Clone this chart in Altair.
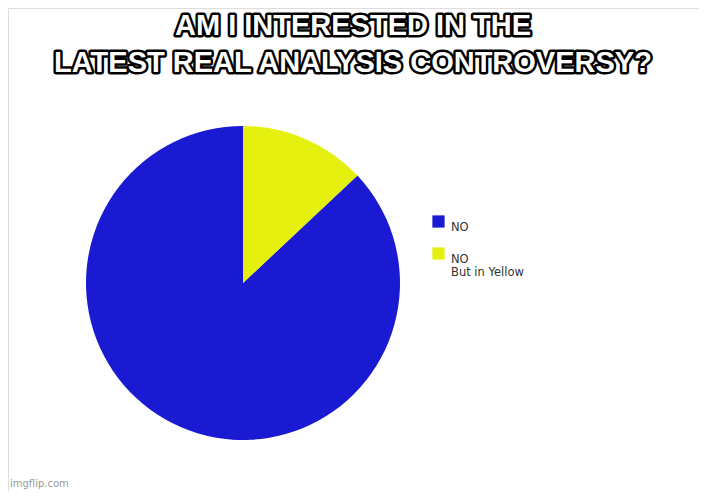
import altair as alt
import pandas as pd

categories = ["NO", "NO (yellow)"]
values = [87, 13]
slice_order = [2, 1]
colors = ["#1a1ad2", "#e6f00e"]
title_lines = ["AM I INTERESTED IN THE", "LATEST REAL ANALYSIS CONTROVERSY?"]
title_ys = [18, 55]

pie_df = pd.DataFrame({"cat": categories, "val": values, "ord": slice_order})

pie = alt.Chart(pie_df).mark_arc(radius=157, stroke=None).encode(
    theta=alt.Theta("val:Q", stack=True),
    order=alt.Order("ord:Q"),
    color=alt.Color("cat:N", scale=alt.Scale(domain=categories, range=colors),
        legend=alt.Legend(title=None, orient="none", legendX=424, legendY=207,
            symbolType="square", symbolSize=150, symbolStrokeWidth=0,
            labelFont="DejaVu Sans", labelFontSize=11.5, labelColor="#333",
            rowPadding=14, labelBaseline="top", labelOffset=6,
            labelExpr="datum.label == 'NO' ? 'NO' : ['NO', '\u00a0\u00a0\u00a0\u00a0\u00a0But in Yellow']")),
    x=alt.value(235), y=alt.value(275),
)

layers = [pie]
for txt, yy in zip(title_lines, title_ys):
    d = pd.DataFrame({"t": [txt]})
    layers.append(alt.Chart(d).mark_text(font="Liberation Sans", fontWeight="bold",
        fontSize=29, stroke="black", strokeWidth=5, strokeJoin="round", fill="black",
        baseline="middle").encode(text="t:N", x=alt.value(345), y=alt.value(yy)))
    layers.append(alt.Chart(d).mark_text(font="Liberation Sans", fontWeight="bold",
        fontSize=29, fill="white", baseline="middle"
    ).encode(text="t:N", x=alt.value(345), y=alt.value(yy)))

wm = alt.Chart(pd.DataFrame({"t": ["imgflip.com"]})).mark_text(
    font="DejaVu Sans", fontSize=10, color="#999", align="left", baseline="middle"
).encode(text="t:N", x=alt.value(2), y=alt.value(476))
layers.append(wm)

chart = alt.layer(*layers).properties(
    width=691, height=483, autosize=alt.AutoSizeParams(type="none"), padding=0
).configure_view(stroke=None).configure(background="white")

chart.save("out.html", embed_options={"renderer": "svg", "actions": False})
